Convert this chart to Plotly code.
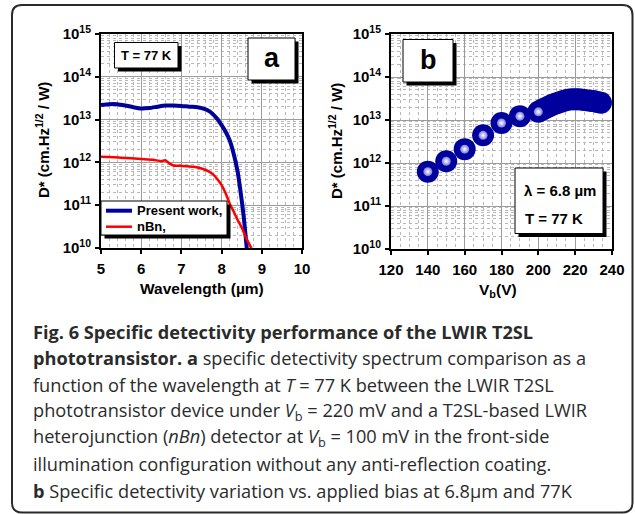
import plotly.graph_objects as go

W, H = 635, 514

# ---------------- data ----------------
# panel a: D* spectra at 77 K
wl_present = [5.0, 5.2, 5.4, 5.6, 5.8, 6.0, 6.2, 6.4, 6.6, 6.8, 7.0, 7.2, 7.4, 7.6, 7.7,
              7.8, 7.9, 8.0, 8.1, 8.2, 8.3, 8.4, 8.5, 8.55, 8.6, 8.63]
d_present = [2.19e13, 2.29e13, 2.29e13, 2.14e13, 1.95e13, 1.82e13, 1.86e13, 2.0e13, 2.14e13,
             2.14e13, 2.09e13, 2.0e13, 1.95e13, 1.74e13, 1.55e13, 1.29e13, 1.02e13, 7.4e12,
             5.2e12, 3.3e12, 1.6e12, 6.0e11, 1.3e11, 5.4e10, 1.8e10, 8.9e9]
wl_nbn = [5.0, 5.5, 6.0, 6.3, 6.5, 6.6, 6.7, 6.8, 7.0, 7.3, 7.5, 7.7, 7.8, 7.9, 8.0, 8.1,
          8.2, 8.3, 8.4, 8.5, 8.6, 8.7, 8.78]
d_nbn = [1.35e12, 1.29e12, 1.2e12, 1.15e12, 1.07e12, 1.12e12, 9.5e11, 8.5e11, 8.3e11, 7.9e11,
         7.2e11, 6.0e11, 5.1e11, 4.0e11, 2.95e11, 1.9e11, 1.1e11, 7.1e10, 4.5e10, 3.0e10,
         1.8e10, 1.17e10, 8.3e9]

# panel b: D* vs bias at 6.8 um, 77 K
vb = [140, 150, 160, 170, 180, 190, 200, 202, 204, 206, 208, 210, 212, 214, 216, 218, 220,
      222, 224, 226, 228, 230, 232, 234]
d_vb = [6.3e11, 1.1e12, 2.1e12, 4.4e12, 8.5e12, 1.23e13, 1.55e13, 1.74e13, 1.91e13, 2.09e13,
        2.29e13, 2.45e13, 2.63e13, 2.82e13, 2.95e13, 3.02e13, 3.02e13, 3.02e13, 2.95e13,
        2.88e13, 2.82e13, 2.75e13, 2.63e13, 2.51e13]

y_tick_vals = [1e10, 1e11, 1e12, 1e13, 1e14, 1e15]
y_tick_text = ["10<sup>10</sup>", "10<sup>11</sup>", "10<sup>12</sup>",
               "10<sup>13</sup>", "10<sup>14</sup>", "10<sup>15</sup>"]
xa_ticks = [5, 6, 7, 8, 9, 10]
xb_ticks = [120, 140, 160, 180, 200, 220, 240]

caption_lines = [
    "<b>Fig. 6 Specific detectivity performance of the LWIR T2SL</b>",
    "<b>phototransistor. a</b> specific detectivity spectrum comparison as a",
    "function of the wavelength at <i>T</i> = 77 K between the LWIR T2SL",
    "phototransistor device under <i>V</i><sub>b</sub> = 220 mV and a T2SL-based LWIR",
    "heterojunction (<i>nBn</i>) detector at <i>V</i><sub>b</sub> = 100 mV in the front-side",
    "illumination configuration without any anti-reflection coating.",
    "<b>b</b> Specific detectivity variation vs. applied bias at 6.8μm and 77K",
]

# ---------------- helpers ----------------
def fx(p):
    return p / W

def fy(p):
    return 1 - p / H

NAVY = "#00009c"
FONT = "Liberation Sans, Arial, sans-serif"
CAPFONT = "Open Sans, sans-serif"
GRID = "#9c9c9c"
MINOR_GRID = "#b8b8b8"

minor_log = [k * 10 ** e for e in range(10, 15) for k in range(2, 10)]
all_log = [k * 10 ** e for e in range(10, 15) for k in range(1, 10)] + [1e15]

fig = go.Figure()

fig.add_trace(go.Scatter(x=wl_present, y=d_present, mode="lines", name="Present work,",
                         line=dict(color=NAVY, width=4, shape="spline", smoothing=0.6),
                         xaxis="x", yaxis="y", showlegend=False))
fig.add_trace(go.Scatter(x=wl_nbn, y=d_nbn, mode="lines", name="nBn,",
                         line=dict(color="#ff0000", width=2.5, shape="spline", smoothing=0.6),
                         xaxis="x", yaxis="y", showlegend=False))

# panel b markers: drawn right-to-left so the left spheres sit on top,
# each sphere followed by its small specular highlight
for v, d in zip(vb[::-1], d_vb[::-1]):
    fig.add_trace(go.Scatter(x=[v], y=[d], mode="markers", name="D* vs Vb",
                             marker=dict(size=22, color=NAVY, line=dict(width=0)),
                             xaxis="x2", yaxis="y2", showlegend=False))
    fig.add_trace(go.Scatter(x=[v], y=[d], mode="markers", name="highlight",
                             marker=dict(size=9, color="#7878dc", line=dict(width=0),
                                         gradient=dict(type="radial", color="#ffffff")),
                             xaxis="x2", yaxis="y2", showlegend=False, hoverinfo="skip"))

axis_common = dict(showline=True, linecolor="black", linewidth=2, mirror=True,
                   ticks="outside", ticklen=4, tickwidth=2, tickcolor="black",
                   showgrid=True, gridcolor=GRID, gridwidth=1, zeroline=False,
                   automargin=False,
                   tickfont=dict(family=FONT, size=15, color="black", weight="bold"))
overlay_common = dict(ticks="inside", ticklen=4, tickwidth=1.5, tickcolor="black",
                      showticklabels=False, showgrid=False, zeroline=False, automargin=False,
                      showline=True, linecolor="black", linewidth=2, mirror="ticks")

dom_ax = [fx(101), fx(302)]
dom_ay = [fy(248), fy(34)]
dom_bx = [fx(391), fx(612)]
dom_by = [fy(249), fy(34)]

fig.update_layout(
    template="none",
    width=W, height=H, margin=dict(l=0, r=0, t=0, b=0, pad=0),
    paper_bgcolor="white", plot_bgcolor="white", showlegend=False,
    xaxis=dict(domain=dom_ax, anchor="y", range=[5, 10], tickmode="array", tickvals=xa_ticks,
               ticklabelstandoff=2,
               minor=dict(dtick=0.2, tick0=5, showgrid=True, griddash="dot",
                          gridcolor=MINOR_GRID, gridwidth=1, ticks=""),
               **axis_common),
    yaxis=dict(domain=dom_ay, anchor="x", type="log", range=[10, 15], tickmode="array",
               tickvals=y_tick_vals, ticktext=y_tick_text, ticklabelstandoff=1,
               minor=dict(tickvals=minor_log, showgrid=True, griddash="dot",
                          gridcolor=MINOR_GRID, gridwidth=1, ticks=""),
               **axis_common),
    xaxis3=dict(overlaying="x", anchor="y", range=[5, 10], tickmode="linear", tick0=5,
                dtick=0.5, **overlay_common),
    yaxis3=dict(overlaying="y", anchor="x", type="log", range=[10, 15], tickmode="array",
                tickvals=all_log, **overlay_common),
    xaxis2=dict(domain=dom_bx, anchor="y2", range=[120, 240], tickmode="array",
                tickvals=xb_ticks, ticklabelstandoff=2,
                minor=dict(dtick=5, tick0=120, showgrid=True, griddash="dot",
                           gridcolor=MINOR_GRID, gridwidth=1, ticks=""),
                **axis_common),
    yaxis2=dict(domain=dom_by, anchor="x2", type="log", range=[10, 15], tickmode="array",
                tickvals=y_tick_vals, ticktext=y_tick_text, ticklabelstandoff=1,
                minor=dict(tickvals=minor_log, showgrid=True, griddash="dot",
                           gridcolor=MINOR_GRID, gridwidth=1, ticks=""),
                **axis_common),
    xaxis4=dict(overlaying="x2", anchor="y2", range=[120, 240], tickmode="linear", tick0=120,
                dtick=10, **overlay_common),
    yaxis4=dict(overlaying="y2", anchor="x2", type="log", range=[10, 15], tickmode="array",
                tickvals=all_log, **overlay_common),
)

shapes = []

def shadow_box(x0, y0, x1, y1, off=3.5):
    shapes.append(dict(type="rect", xref="paper", yref="paper", layer="above",
                       x0=fx(x0 + off), x1=fx(x1 + off), y0=fy(y0 + off), y1=fy(y1 + off),
                       fillcolor="black", line=dict(width=0)))
    shapes.append(dict(type="rect", xref="paper", yref="paper", layer="above",
                       x0=fx(x0), x1=fx(x1), y0=fy(y0), y1=fy(y1),
                       fillcolor="white", line=dict(color="black", width=1)))

shadow_box(114.5, 42.5, 178, 68)      # T = 77 K (a)
shadow_box(248, 38, 295, 80)          # a
shadow_box(101, 201, 227, 235)        # legend
shadow_box(403, 39.5, 453, 82)        # b
shadow_box(515, 168, 603, 233.5)      # lambda box

# legend samples
shapes.append(dict(type="line", xref="paper", yref="paper", layer="above",
                   x0=fx(106), x1=fx(132), y0=fy(210.7), y1=fy(210.7),
                   line=dict(color=NAVY, width=4)))
shapes.append(dict(type="line", xref="paper", yref="paper", layer="above",
                   x0=fx(106), x1=fx(132), y0=fy(226.7), y1=fy(226.7),
                   line=dict(color="#ff0000", width=2.5)))

# rounded outer frame
x0, y0, x1, y1, r = 12, 5, 632.5, 512.5, 10
pts = [("M", x0 + r, y0), ("L", x1 - r, y0), ("Q", x1, y0, x1, y0 + r), ("L", x1, y1 - r),
       ("Q", x1, y1, x1 - r, y1), ("L", x0 + r, y1), ("Q", x0, y1, x0, y1 - r),
       ("L", x0, y0 + r), ("Q", x0, y0, x0 + r, y0)]
path = ""
for p in pts:
    cmd = p[0]
    coords = p[1:]
    s = []
    for i in range(0, len(coords), 2):
        s.append(f"{fx(coords[i]):.5f},{fy(coords[i + 1]):.5f}")
    path += cmd + " " + " ".join(s) + " "
path += "Z"
shapes.append(dict(type="path", xref="paper", yref="paper", path=path, layer="above",
                   line=dict(color="#2a2a2a", width=2)))

fig.update_layout(shapes=shapes)

ann = []

def text(t, x, y, size, xanchor="center", angle=0, family=FONT, weight="bold", color="black"):
    ann.append(dict(text=t, x=fx(x), y=fy(y), xref="paper", yref="paper", showarrow=False,
                    xanchor=xanchor, yanchor="middle", textangle=angle,
                    font=dict(family=family, size=size, color=color, weight=weight)))

text("T = 77 K", 146.5, 55.5, 13)
text("a", 271.5, 58, 27)
text("Present work,", 135, 210.7, 13, xanchor="left")
text("nBn,", 135, 226.7, 13, xanchor="left")
text("b", 428, 59.5, 27)
text("λ = 6.8 µm", 522, 190, 15, xanchor="left")
text("T = 77 K", 523, 218.3, 15, xanchor="left")

text("D* (cm.Hz<sup>1/2</sup> / W)", 43, 140, 15, angle=-90)
text("Wavelength (µm)", 201.5, 288, 15.5)
text("D* (cm.Hz<sup>1/2</sup> / W)", 335, 141, 15, angle=-90)
text("V<sub>b</sub>(V)", 498, 290, 15.5)

for i, line in enumerate(caption_lines):
    text(line, 31, 332 + i * 26.45, 18.2, xanchor="left", family=CAPFONT,
         weight="normal", color="#2b2b2b")

fig.update_layout(annotations=ann)

fig.write_html("out.html")
